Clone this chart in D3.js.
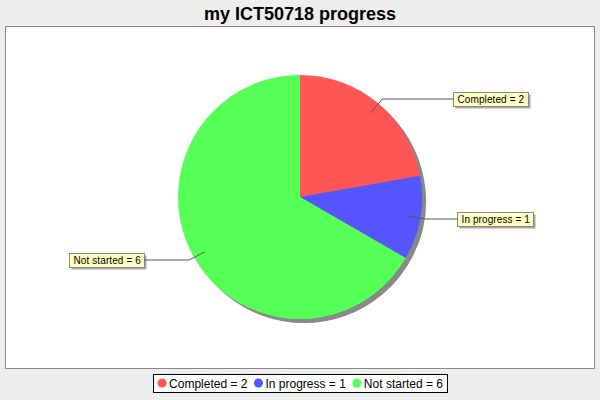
<!DOCTYPE html>
<html><head><meta charset="utf-8">
<script src="https://cdn.jsdelivr.net/npm/d3@7"></script>
<style>body{margin:0;background:#eeeeee;} svg{display:block;}</style>
</head><body>
<svg id="chart" width="600" height="400"></svg>
<script>
const titleText = "my ICT50718 progress";
const categories = ["Completed", "In progress", "Not started"];
const values = [2, 1, 6];
const colors = ["#ff5555", "#5555ff", "#55ff55"];

const svg = d3.select("#chart");
const W = 600, H = 400;
svg.append("rect").attr("width", W).attr("height", H).attr("fill", "#eeeeee");

svg.append("text").attr("x", 300).attr("y", 20).attr("text-anchor", "middle")
  .attr("font-family", "Liberation Sans, Arial, sans-serif").attr("font-weight", "bold")
  .attr("font-size", 18).attr("fill", "#000").text(titleText);

// plot area
svg.append("rect").attr("x", 5.5).attr("y", 26.5).attr("width", 589).attr("height", 342)
  .attr("fill", "#ffffff").attr("stroke", "#888888").attr("stroke-width", 1);

const cx = 300, cy = 197, r = 122;
const data = categories.map((c, i) => ({cat: c, val: values[i], color: colors[i]}));
const pie = d3.pie().value(d => d.val).sort(null);
const arcs = pie(data);
const arc = d3.arc().innerRadius(0).outerRadius(r);

const g = svg.append("g").attr("transform", `translate(${cx},${cy})`);
// shadow
g.append("g").attr("transform", "translate(4,4)").selectAll("path").data(arcs).join("path")
  .attr("d", arc).attr("fill", "#888888");
g.selectAll("path.slice").data(arcs).join("path").attr("class", "slice")
  .attr("d", arc).attr("fill", d => d.data.color);

// labels
const labelFont = "Liberation Sans, Arial, sans-serif";
const labelPos = [
  {bx: 453, by: 92},
  {bx: 457, by: 212},
  {bx: 69, by: 253, left: true}
];
arcs.forEach((a, i) => {
  const mid = (a.startAngle + a.endAngle) / 2;
  const ax = cx + Math.sin(mid) * r * 0.9, ay = cy - Math.cos(mid) * r * 0.9;
  const ex = cx + Math.sin(mid) * r * 1.05, ey = cy - Math.cos(mid) * r * 1.05;
  const lp = labelPos[i];
  const label = a.data.cat + " = " + a.data.val;
  const t = svg.append("text").attr("font-family", labelFont).attr("font-size", 10)
    .attr("letter-spacing", 0.1).attr("fill", "#000").text(label);
  const tw = t.node().getComputedTextLength();
  const bw = Math.round(tw + 8), bh = 14;
  const bx = lp.bx, by = lp.by;
  const ly = by + bh / 2;
  const lx = lp.left ? bx + bw : bx;
  svg.append("path").attr("d", `M${ax},${ay}L${ex},${ly}L${lx},${ly}`)
    .attr("fill", "none").attr("stroke", "#555555").attr("stroke-width", 1);
  svg.insert("rect", () => t.node()).attr("x", bx + 2.5).attr("y", by + 2.5).attr("width", bw).attr("height", bh)
    .attr("fill", "#aaaaaa");
  svg.insert("rect", () => t.node()).attr("x", bx + 0.5).attr("y", by + 0.5).attr("width", bw).attr("height", bh)
    .attr("fill", "#ffffc0").attr("stroke", "#888888");
  t.attr("x", bx + 4.5).attr("y", by + 11);
});

// legend
const lg = svg.append("g");
const items = data.map(d => d.cat + " = " + d.val);
let x = 0;
items.forEach((txt, i) => {
  const it = lg.append("g");
  it.append("circle").attr("cx", x + 5).attr("cy", 0).attr("r", 4.5).attr("fill", colors[i]);
  const t = it.append("text").attr("x", x + 12).attr("y", 4.5).attr("font-family", labelFont)
    .attr("font-size", 12).attr("fill", "#000").text(txt);
  x += 12 + t.node().getComputedTextLength() + 6;
});
const legW = x - 6 + 8;
const lx0 = 300 - legW / 2;
lg.attr("transform", `translate(${lx0 + 4},383)`);
svg.insert("rect", () => lg.node()).attr("x", Math.round(lx0) + 0.5).attr("y", 374.5).attr("width", Math.round(legW)).attr("height", 18)
  .attr("fill", "#ffffff").attr("stroke", "#000000");
</script>
</body></html>
